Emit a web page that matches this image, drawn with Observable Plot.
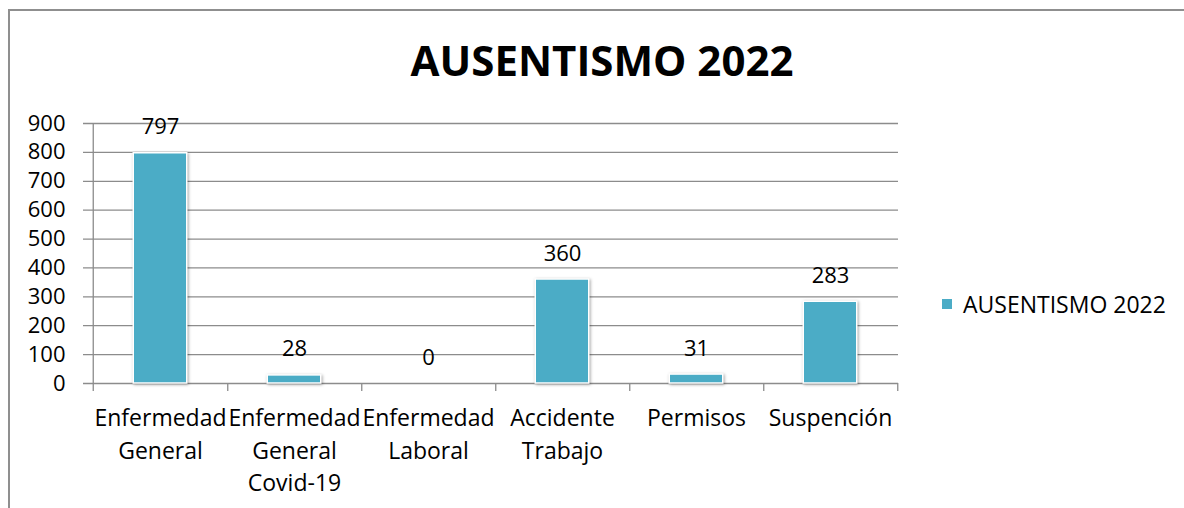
<!DOCTYPE html>
<html>
<head>
<meta charset="utf-8">
<script src="https://cdn.jsdelivr.net/npm/d3@7"></script>
<script src="https://cdn.jsdelivr.net/npm/@observablehq/plot@0.6"></script>
<style>
  html, body { margin: 0; padding: 0; background: #fff; overflow: hidden; }
  #wrap { position: relative; width: 1184px; height: 508px; overflow: hidden; font-family: "Open Sans", sans-serif; }
  #border { position: absolute; left: 8px; top: 9px; width: 1300px; height: 700px; border-top: 2px solid #8f8f8f; border-left: 2px solid #8f8f8f; }
  #title { position: absolute; left: 0; width: 1204px; top: 39px; text-align: center; font-size: 42px; font-weight: 700; color: #000; line-height: 1; white-space: nowrap; }
  #legend { position: absolute; left: 942px; top: 288px; font-size: 23px; color: #000; display: flex; align-items: center; white-space: nowrap; }
  #legend .sw { width: 10px; height: 10px; background: #4BACC6; margin-right: 11px; }
  #chart { position: absolute; left: 0; top: 0; }
  #chart g[aria-label="bar"] { filter: drop-shadow(1px 1px 1.5px rgba(0,0,0,0.35)); }
</style>
</head>
<body>
<div id="wrap">
  <div id="border"></div>
  <div id="chart"></div>
  <div id="title"></div>
  <div id="legend"><div class="sw"></div><span id="legtext"></span></div>
</div>
<script>
const title = "AUSENTISMO 2022";
const categories = ["Enfermedad General", "Enfermedad General Covid-19", "Enfermedad Laboral", "Accidente Trabajo", "Permisos", "Suspención"];
const labels = ["Enfermedad\nGeneral", "Enfermedad\nGeneral\nCovid-19", "Enfermedad\nLaboral", "Accidente\nTrabajo", "Permisos", "Suspención"];
const values = [797, 28, 0, 360, 31, 283];
const yTicks = [0, 100, 200, 300, 400, 500, 600, 700, 800, 900];

document.getElementById("title").textContent = title;
document.getElementById("legtext").textContent = title;

const data = categories.map((c, i) => ({cat: c, value: values[i], label: labels[i]}));

const W = 1184, H = 508;
const mL = 91, mR = 286, mT = 123, mB = 125;
const bw = (W - mL - mR) / categories.length;
const gray = "#8c8c8c";

const chart = Plot.plot({
  width: W,
  height: H,
  marginLeft: mL,
  marginRight: mR,
  marginTop: mT,
  marginBottom: mB,
  style: {fontFamily: "'Open Sans', sans-serif", fontSize: "22px", color: "#000", background: "transparent"},
  x: {domain: categories, padding: 0, axis: null},
  y: {domain: [0, 900], axis: null},
  marks: [
    Plot.ruleY(yTicks, {stroke: gray, strokeWidth: 1.3, insetLeft: -8}),
    Plot.ruleX([categories[0]], {x: d => d, dx: -bw / 2, y1: 900, y2: -28, stroke: gray, strokeWidth: 1.3}),
    Plot.ruleX(categories, {x: d => d, dx: bw / 2, y1: 0, y2: -28, stroke: gray, strokeWidth: 1.3}),
    Plot.barY(data, {x: "cat", y: "value", fill: "#4BACC6", stroke: "#ffffff", strokeWidth: 1.5, insetLeft: bw / 2 - 27, insetRight: bw / 2 - 27}),
    Plot.text(yTicks, {x: null, y: d => d, text: d => String(d), frameAnchor: "left", textAnchor: "end", dx: -26, fill: "#000", fontSize: 22}),
    Plot.text(data, {x: "cat", y: "value", text: d => String(d.value), lineAnchor: "bottom", dy: -19, fill: "#000", fontSize: 22}),
    Plot.text(data, {x: "cat", text: "label", frameAnchor: "bottom", lineAnchor: "top", dy: 20, lineHeight: 1.4, fill: "#000", fontSize: 23})
  ]
});
document.getElementById("chart").appendChild(chart);
</script>
</body>
</html>
